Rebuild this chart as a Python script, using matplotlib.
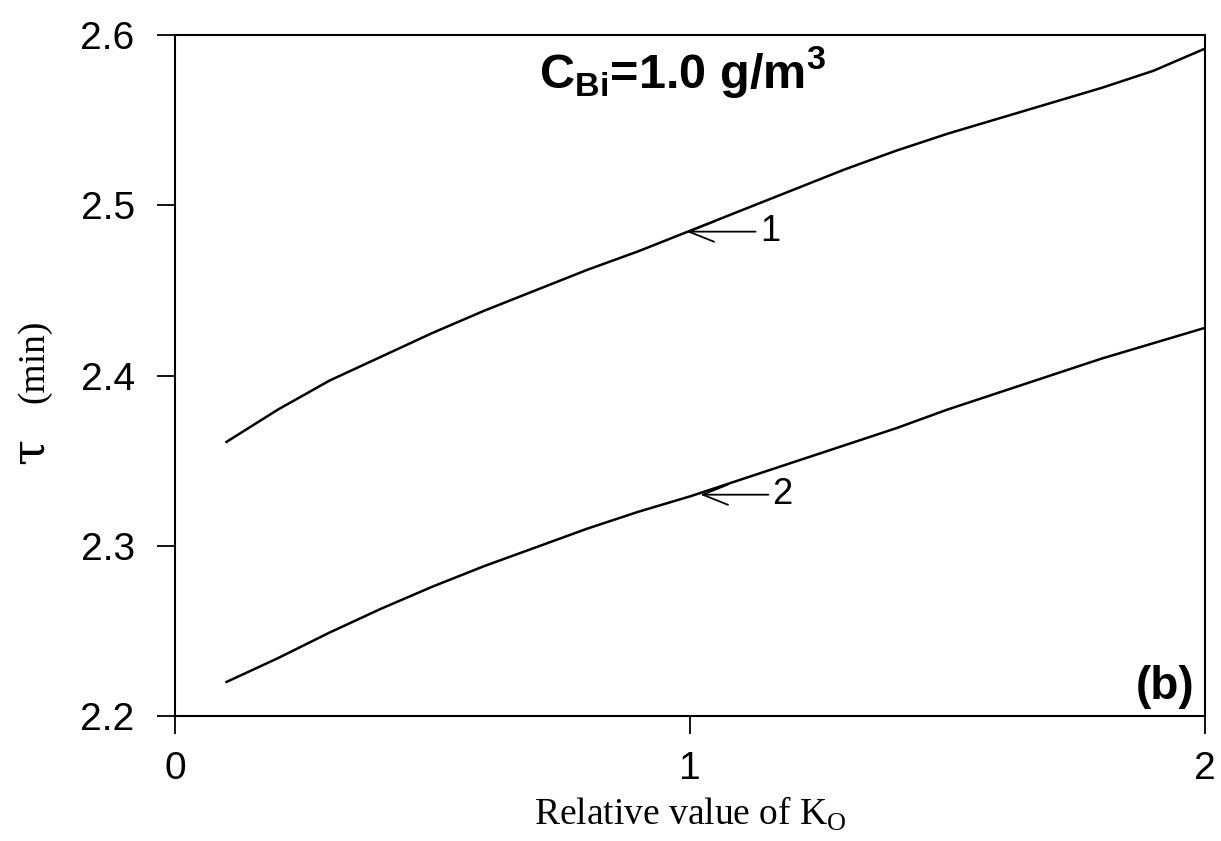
import matplotlib
matplotlib.use("Agg")
import matplotlib.pyplot as plt

# relative value of K_O
k_rel = [0.1, 0.2, 0.3, 0.4, 0.5, 0.6, 0.7, 0.8, 0.9, 1.0,
         1.1, 1.2, 1.3, 1.4, 1.5, 1.6, 1.7, 1.8, 1.9, 2.0]

# tau (min), curve 1 and curve 2
tau_1 = [2.361, 2.380, 2.397, 2.411, 2.425, 2.438, 2.450, 2.462, 2.473, 2.485,
         2.497, 2.509, 2.521, 2.532, 2.542, 2.551, 2.560, 2.569, 2.579, 2.592]
tau_2 = [2.220, 2.234, 2.249, 2.263, 2.276, 2.288, 2.299, 2.310, 2.320, 2.329,
         2.339, 2.349, 2.359, 2.369, 2.380, 2.390, 2.400, 2.410, 2.419, 2.428]

x_ticks = [0, 1, 2]
y_ticks = [2.2, 2.3, 2.4, 2.5, 2.6]

SANS = "Liberation Sans"
SERIF = "Liberation Serif"

fig = plt.figure(figsize=(12.21, 8.41), dpi=100)
ax = fig.add_axes([0.1433, 0.1486, 0.8436, 0.8098])

ax.plot(k_rel, tau_1, color="black", lw=1.8)
ax.plot(k_rel, tau_2, color="black", lw=1.8)

ax.set_xlim(0, 2)
ax.set_ylim(2.2, 2.6)
ax.set_xticks(x_ticks)
ax.set_yticks(y_ticks)
ax.set_xticklabels([str(t) for t in x_ticks], fontfamily=SANS, fontsize=28)
ax.set_yticklabels([f"{t:.1f}" for t in y_ticks], fontfamily=SANS, fontsize=28)
ax.tick_params(axis="x", direction="out", length=13, width=1.3, pad=12)
ax.tick_params(axis="y", direction="out", length=13, width=1.3, pad=16)
for sp in ax.spines.values():
    sp.set_linewidth(1.5)

ax.set_xlabel(r"Relative value of K$_\mathregular{O}$", fontfamily=SERIF,
              fontsize=27, labelpad=6)

# y label: big tau plus smaller "(min)", sharing one baseline
fig.text(0.0352, 0.4637, "τ", fontfamily="DejaVu Serif", fontsize=34,
         rotation=90, rotation_mode="anchor", ha="center", va="baseline")
fig.text(0.0352, 0.5707, "(min)", fontfamily=SERIF, fontsize=27,
         rotation=90, rotation_mode="anchor", ha="center", va="baseline")

# curve labels with arrows
arrow = dict(arrowstyle="->,head_length=0.7,head_width=0.28", lw=1.3,
             color="black", shrinkA=1, shrinkB=0)
ax.annotate("1", xy=(0.993, 2.4845), xytext=(1.155, 2.4845),
            fontfamily=SANS, fontsize=26, ha="center", va="center",
            arrowprops=arrow)
ax.annotate("2", xy=(1.020, 2.330), xytext=(1.180, 2.330),
            fontfamily=SANS, fontsize=26, ha="center", va="center",
            arrowprops=arrow)

ax.text(0.985, 2.568, r"C$_\mathregular{Bi}$=1.0 g/m$^\mathregular{3}$",
        fontfamily=SANS, fontweight="bold", fontsize=35, ha="center",
        va="baseline")
ax.text(1.98, 2.21, "(b)", fontfamily=SANS, fontweight="bold", fontsize=33,
        ha="right", va="baseline")

fig.savefig("out.png", dpi=100)
